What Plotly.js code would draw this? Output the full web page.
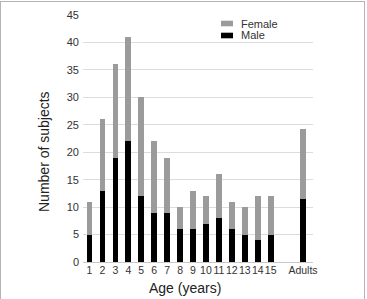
<!DOCTYPE html>
<html>
<head>
<meta charset="utf-8">
<script src="https://cdn.plot.ly/plotly-3.0.1.min.js"></script>
<style>
  html, body { margin: 0; padding: 0; background: #fff; }
  #wrap { position: relative; width: 367px; height: 299px; overflow: hidden; }
  #chart { width: 367px; height: 299px; }
  #frame {
    position: absolute; left: 0; top: 1px; width: 363px; height: 310px;
    border: 1px solid #b4b4b4; border-bottom: none; pointer-events: none;
  }
</style>
</head>
<body>
<div id="wrap">
  <div id="chart"></div>
  <div id="frame"></div>
</div>
<script>
// Age groups and their positions on the x axis (Adults set apart from the children)
const ageLabels = ["1","2","3","4","5","6","7","8","9","10","11","12","13","14","15","Adults"];
const agePos    = [1,2,3,4,5,6,7,8,9,10,11,12,13,14,15,17.5];

// Subjects per group
const male   = [5, 13, 19, 22, 12, 9, 9, 6, 6, 7, 8, 6, 5, 4, 5, 11.4];
const female = [6, 13, 17, 19, 18, 13, 10, 4, 7, 5, 8, 5, 5, 8, 7, 12.9];

const seriesNames  = ["Male", "Female"];
const seriesColors = ["#000000", "#9b9b9b"];

const yTicks = [0, 5, 10, 15, 20, 25, 30, 35, 40, 45];

const W = 367, H = 299;
const M = { l: 83, r: 54, t: 15, b: 37 };
const pw = W - M.l - M.r, ph = H - M.t - M.b;
const px = x => (x - M.l) / pw;
const py = y => (H - M.b - y) / ph;
const FONT = "Liberation Sans, Arial, sans-serif";

const traces = [male, female].map((vals, i) => ({
  type: "bar",
  name: seriesNames[i],
  x: agePos,
  y: vals,
  width: 0.44,
  marker: { color: seriesColors[i], line: { width: 0 } },
  hoverinfo: "x+y+name",
  showlegend: false
}));

// Legend drawn as swatches with labels, Female above Male
const legendRows = [
  { name: seriesNames[1], color: seriesColors[1], y: 23.5 },
  { name: seriesNames[0], color: seriesColors[0], y: 35.5 }
];
const shapes = legendRows.map(r => ({
  type: "rect", xref: "paper", yref: "paper",
  x0: px(221), x1: px(233), y0: py(r.y - 2.8), y1: py(r.y + 2.8),
  fillcolor: r.color, line: { width: 0 }
}));
const annotations = legendRows.map(r => ({
  xref: "paper", yref: "paper", x: px(239), y: py(r.y),
  xanchor: "left", yanchor: "middle", showarrow: false,
  text: r.name, font: { family: FONT, size: 11, color: "#333" }
}));
annotations.push({
  xref: "paper", yref: "paper", x: px(185), y: py(288),
  xanchor: "center", yanchor: "middle", showarrow: false,
  text: "Age (years)", font: { family: FONT, size: 14, color: "#222" }
});
annotations.push({
  xref: "paper", yref: "paper", x: px(44), y: py(152),
  xanchor: "center", yanchor: "middle", showarrow: false, textangle: -90,
  text: "Number of subjects", font: { family: FONT, size: 14, color: "#222" }
});

const layout = {
  width: W, height: H,
  margin: M,
  paper_bgcolor: "#fff", plot_bgcolor: "#fff",
  barmode: "stack",
  font: { family: FONT, size: 11, color: "#333" },
  xaxis: {
    range: [0.5, 18.27],
    tickmode: "array", tickvals: agePos, ticktext: ageLabels,
    tickangle: 0, ticks: "", showgrid: false, zeroline: false,
    showline: false, tickfont: { family: FONT, size: 10.5, color: "#333" }
  },
  yaxis: {
    range: [0, 45],
    tickmode: "array", tickvals: yTicks,
    ticks: "", showgrid: true, gridcolor: "#dcdcdc", gridwidth: 1,
    zeroline: true, zerolinecolor: "#c8c8c8", zerolinewidth: 1,
    showline: false, ticklabelstandoff: 3,
    tickfont: { family: FONT, size: 11, color: "#333" }
  },
  shapes: shapes,
  annotations: annotations
};

Plotly.newPlot("chart", traces, layout, { displayModeBar: false, staticPlot: true });
</script>
</body>
</html>
